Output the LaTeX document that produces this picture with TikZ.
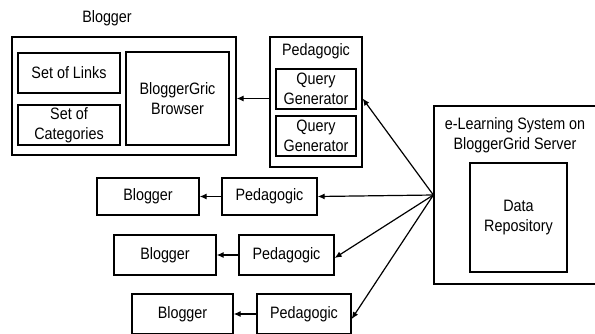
\documentclass[tikz,border=0pt]{standalone}
\usepackage{fontspec}
\setmainfont{Liberation Sans}[FakeStretch=0.87]
\usetikzlibrary{arrows.meta}
\begin{document}
\begin{tikzpicture}[x=1pt,y=-1pt,
  box/.style={draw, line width=1.3pt, inner sep=0pt, align=center},
  lbl/.style={inner sep=0pt, align=center},
  arr/.style={line width=1.2pt, -{Latex[length=7pt,width=6pt]}},
  font=\fontsize{16.5}{19.5}\selectfont]
\useasboundingbox (0,0) rectangle (595,333);
\clip (0,0) rectangle (595,333);
% top blogger group
\node[lbl] (btitle) at (107,18) {Blogger};
\node[box, minimum width=224pt, minimum height=118pt] (bOuter) at (124,96) {};
\node[box, minimum width=102pt, minimum height=40pt] (links) at (69,73) {Set of Links};
\node[box, minimum width=102pt, minimum height=40pt] (cats) at (69,125) {Set of\\Categories};
\node[box, minimum width=103pt, minimum height=93pt] (browser) at (177.5,98.5) {BloggerGric\\Browser};
% pedagogic top
\node[box, minimum width=92pt, minimum height=130pt] (pOuter) at (316,102) {};
\node[lbl] (ptitle) at (316,51) {Pedagogic};
\node[box, minimum width=80pt, minimum height=40pt] (qg1) at (316,89) {Query\\Generator};
\node[box, minimum width=80pt, minimum height=40pt] (qg2) at (316,136) {Query\\Generator};
% e-learning system
\node[box, minimum width=166pt, minimum height=178pt] (eOuter) at (517,195) {};
\node[lbl] (etitle) at (515,135) {e-Learning System on\\BloggerGrid Server};
\node[box, minimum width=97pt, minimum height=109pt] (repo) at (518.5,217.5) {Data\\Repository};
% rows
\node[box, minimum width=102pt, minimum height=37pt] (b1) at (148,196.5) {Blogger};
\node[box, minimum width=95pt, minimum height=37pt] (p1) at (269.5,196.5) {Pedagogic};
\node[box, minimum width=102pt, minimum height=40pt] (b2) at (165,255) {Blogger};
\node[box, minimum width=95pt, minimum height=40pt] (p2) at (286.5,255) {Pedagogic};
\node[box, minimum width=101pt, minimum height=40pt] (b3) at (182.5,314) {Blogger};
\node[box, minimum width=94pt, minimum height=40pt] (p3) at (304,314) {Pedagogic};
% connectors
\draw[arr] (pOuter.west |- browser) -- (bOuter.east |- browser);
\draw[arr] (eOuter.west) -- (pOuter.east |- browser);
\draw[arr] (eOuter.west) -- (p1.east);
\draw[arr] (eOuter.west) -- ([yshift=-3pt]p2.east);
\draw[arr] (eOuter.west) -- ([yshift=-5pt]p3.east);
\draw[arr] (p1.west) -- (b1.east);
\draw[arr] (p2.west) -- (b2.east);
\draw[arr] (p3.west) -- (b3.east);
\end{tikzpicture}
\end{document}
